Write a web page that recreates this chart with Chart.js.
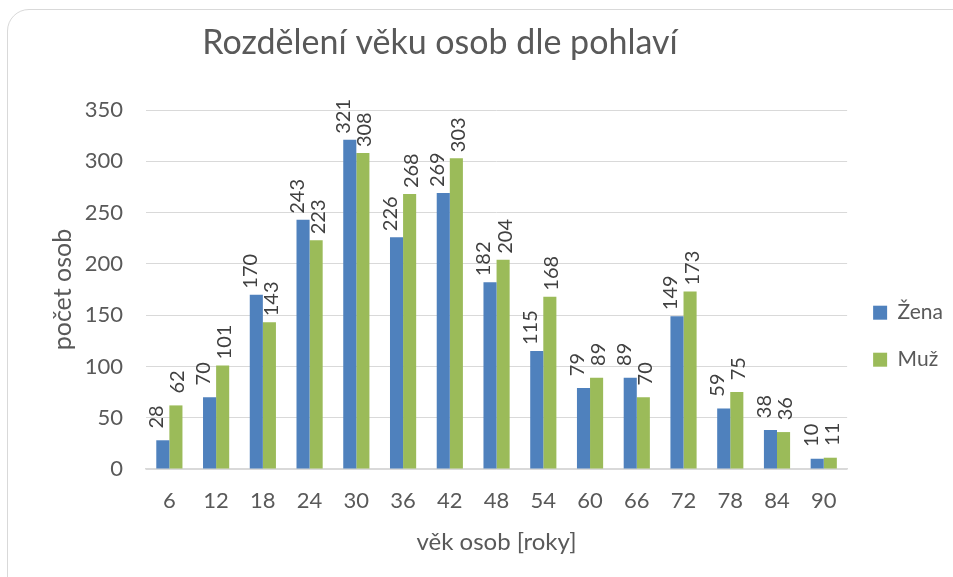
<!DOCTYPE html>
<html>
<head>
    <meta charset="utf-8">
    <title>Rozdělení věku osob dle pohlaví</title>
    <script src="https://cdn.jsdelivr.net/npm/chart.js"></script>
    <style>
        body { margin: 0; overflow: hidden; background: #fff; }
        #frame { position: absolute; left: 7px; top: 9px; width: 972px; height: 600px; border: 1.5px solid #d9d9d9; border-radius: 22px; }
        #wrap { position: absolute; left: 0; top: 0; width: 953px; height: 577px; }
    </style>
</head>
<body>
    <div id="frame"></div>
    <div id="wrap"><canvas id="myChart" width="953" height="577"></canvas></div>
    <script>
        const ages = ['6', '12', '18', '24', '30', '36', '42', '48', '54', '60', '66', '72', '78', '84', '90'];
        const zeny = [28, 70, 170, 243, 321, 226, 269, 182, 115, 79, 89, 149, 59, 38, 10];
        const muzi = [62, 101, 143, 223, 308, 268, 303, 204, 168, 89, 70, 173, 75, 36, 11];
        const yTicks = [0, 50, 100, 150, 200, 250, 300, 350];

        const textColor = '#595959';
        Chart.defaults.font.family = 'Lato';

        // popisky hodnot otocene o 90 stupnu nad sloupci
        const barLabels = {
            id: 'barLabels',
            afterDatasetsDraw(chart) {
                const ctx = chart.ctx;
                ctx.save();
                ctx.font = '20px Lato';
                ctx.fillStyle = '#404040';
                ctx.textBaseline = 'middle';
                ctx.textAlign = 'left';
                const boxW = ctx.measureText('000').width;
                chart.data.datasets.forEach((ds, i) => {
                    const meta = chart.getDatasetMeta(i);
                    const shift = i === 0 ? -6 : 2;
                    meta.data.forEach((bar, j) => {
                        const txt = String(ds.data[j]);
                        const w = ctx.measureText(txt).width;
                        ctx.save();
                        ctx.translate(bar.x + shift, bar.y - 6 - (boxW - w) / 2);
                        ctx.rotate(-Math.PI / 2);
                        ctx.fillText(txt, 0, 0);
                        ctx.restore();
                    });
                });
                ctx.restore();
            }
        };

        const chartTitle = {
            id: 'chartTitle',
            afterDraw(chart) {
                const ctx = chart.ctx;
                ctx.save();
                ctx.font = '34px Lato';
                ctx.fillStyle = textColor;
                ctx.textAlign = 'center';
                ctx.textBaseline = 'middle';
                ctx.fillText('Rozdělení věku osob dle pohlaví', 440, 43);
                ctx.restore();
            }
        };

        const ctx = document.getElementById('myChart').getContext('2d');
        const myChart = new Chart(ctx, {
            type: 'bar',
            data: {
                labels: ages,
                datasets: [{
                    label: 'Žena',
                    data: zeny,
                    backgroundColor: '#4f81bd'
                }, {
                    label: 'Muž',
                    data: muzi,
                    backgroundColor: '#9bbb59'
                }]
            },
            options: {
                responsive: false,
                animation: false,
                categoryPercentage: 0.56,
                barPercentage: 1.0,
                layout: { padding: { top: 110, right: 0, left: 0, bottom: 0 } },
                plugins: {
                    legend: {
                        position: 'right',
                        align: 'start',
                        title: { display: true, text: ' ', font: { size: 1 }, padding: { top: 165, bottom: 0 } },
                        labels: { boxWidth: 14, boxHeight: 14, padding: 26, color: textColor, font: { size: 21 } }
                    },
                    tooltip: { enabled: false }
                },
                scales: {
                    x: {
                        grid: { display: false, drawTicks: false },
                        border: { color: '#d9d9d9', width: 1.5 },
                        ticks: { color: textColor, font: { size: 22 }, padding: 19 },
                        title: { display: true, text: 'věk osob [roky]', color: textColor, font: { size: 24 }, padding: { top: 0, bottom: 20 } },
                        afterFit: s => { s.height = 108; }
                    },
                    y: {
                        min: 0,
                        max: 350,
                        grid: { color: '#d9d9d9', drawTicks: false },
                        border: { display: false },
                        ticks: { color: textColor, font: { size: 22 }, padding: 23 },
                        afterBuildTicks: s => { s.ticks = yTicks.map(v => ({ value: v })); },
                        title: { display: true, text: 'počet osob', color: textColor, font: { size: 25 }, padding: { top: 48, bottom: 0 } },
                        afterFit: s => { s.width = 146; }
                    }
                }
            },
            plugins: [barLabels, chartTitle]
        });
    </script>
</body>
</html>
